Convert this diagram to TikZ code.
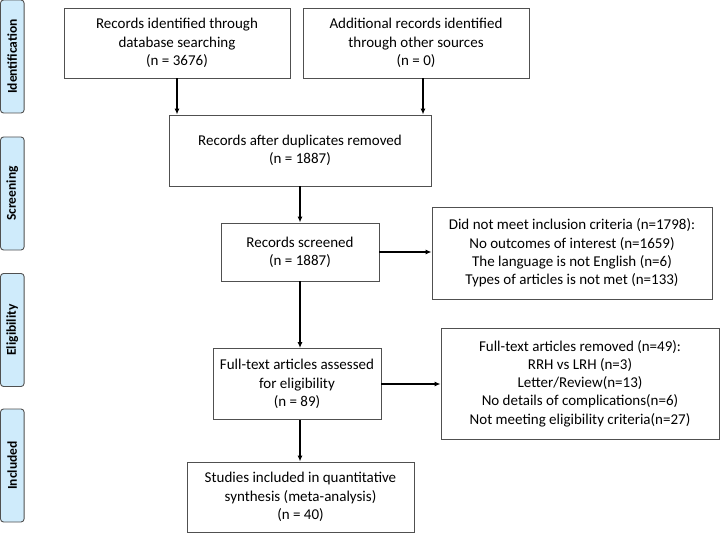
\documentclass[tikz,border=0pt]{standalone}
\usepackage{fontspec}
\setmainfont{Carlito}
\usepackage{tikz}
\usetikzlibrary{arrows.meta}
\definecolor{phaseblue}{HTML}{CFEBFB}
\definecolor{boxline}{HTML}{505050}
\tikzstyle{box_normal} = [rectangle, draw=boxline, line width=0.9pt, align=center, inner sep=0pt, font=\fontsize{15}{18.3}\selectfont]
\tikzstyle{box_phase} = [rectangle, draw=boxline, fill=phaseblue, rounded corners=3pt, line width=0.9pt, minimum width=23.5pt, minimum height=113pt, inner sep=0pt, font=\fontsize{13.5}{15}\selectfont\bfseries]
\tikzstyle{edge_arrow} = [line width=1.6pt, -{Latex[length=6pt,width=5pt]}]

\begin{document}
\begin{tikzpicture}[x=1pt, y=-1pt]
		\useasboundingbox (0,0) rectangle (722,545);
		\node (P1) at (12.3, 56.5) [box_phase] {\rotatebox{90}{Identification}};
		\node (P2) at (12.3, 193.5) [box_phase] {\rotatebox{90}{Screening}};
		\node (P3) at (12.3, 330) [box_phase] {\rotatebox{90}{Eligibility}};
		\node (P4) at (12.3, 465.5) [box_phase] {\rotatebox{90}{Included}};
		
		\node (A) at (177, 43) [box_normal, minimum width=226pt, minimum height=70pt] {Records identified through\\database searching\\(n = 3676)};
		\node (B) at (416, 43) [box_normal, minimum width=226pt, minimum height=70pt] {Additional records identified\\through other sources\\(n = 0)};
		\node (C) at (300, 150.5) [box_normal, minimum width=262pt, minimum height=71pt] {Records after duplicates removed\\(n = 1887)};
		\node (D) at (300, 252) [box_normal, minimum width=158pt, minimum height=58pt] {Records screened\\(n = 1887)};
		\node (E) at (572, 253) [box_normal, minimum width=280pt, minimum height=92pt] {Did not meet inclusion criteria (n=1798):\\No outcomes of interest (n=1659)\\The language is not English (n=6)\\Types of articles is not met (n=133)};
		\node (F) at (297, 384) [box_normal, minimum width=168pt, minimum height=71pt] {Full-text articles assessed\\for eligibility\\(n = 89)};
		\node (G) at (580, 383.5) [box_normal, minimum width=278pt, minimum height=111pt] {Full-text articles removed (n=49):\\RRH vs LRH (n=3)\\Letter/Review(n=13)\\No details of complications(n=6)\\Not meeting eligibility criteria(n=27)};
		\node (H) at (300.5, 497) [box_normal, minimum width=227pt, minimum height=70pt] {Studies included in quantitative\\synthesis (meta-analysis)\\(n = 40)};
		
		\draw[edge_arrow] (A.south) -- (A.south |- C.north);
		\draw[edge_arrow] ([xshift=7pt]B.south) -- ([xshift=7pt]B.south |- C.north);
		\draw[edge_arrow] (C.south) -- (D.north);
		\draw[edge_arrow] (D.east) -- (D.east -| E.west);
		\draw[edge_arrow] (D.south) -- (D.south |- F.north);
		\draw[edge_arrow] (F.east) -- (F.east -| G.west);
		\draw[edge_arrow] (F.south -| D.south) -- (D.south |- H.north);
		\end{tikzpicture}
\end{document}
